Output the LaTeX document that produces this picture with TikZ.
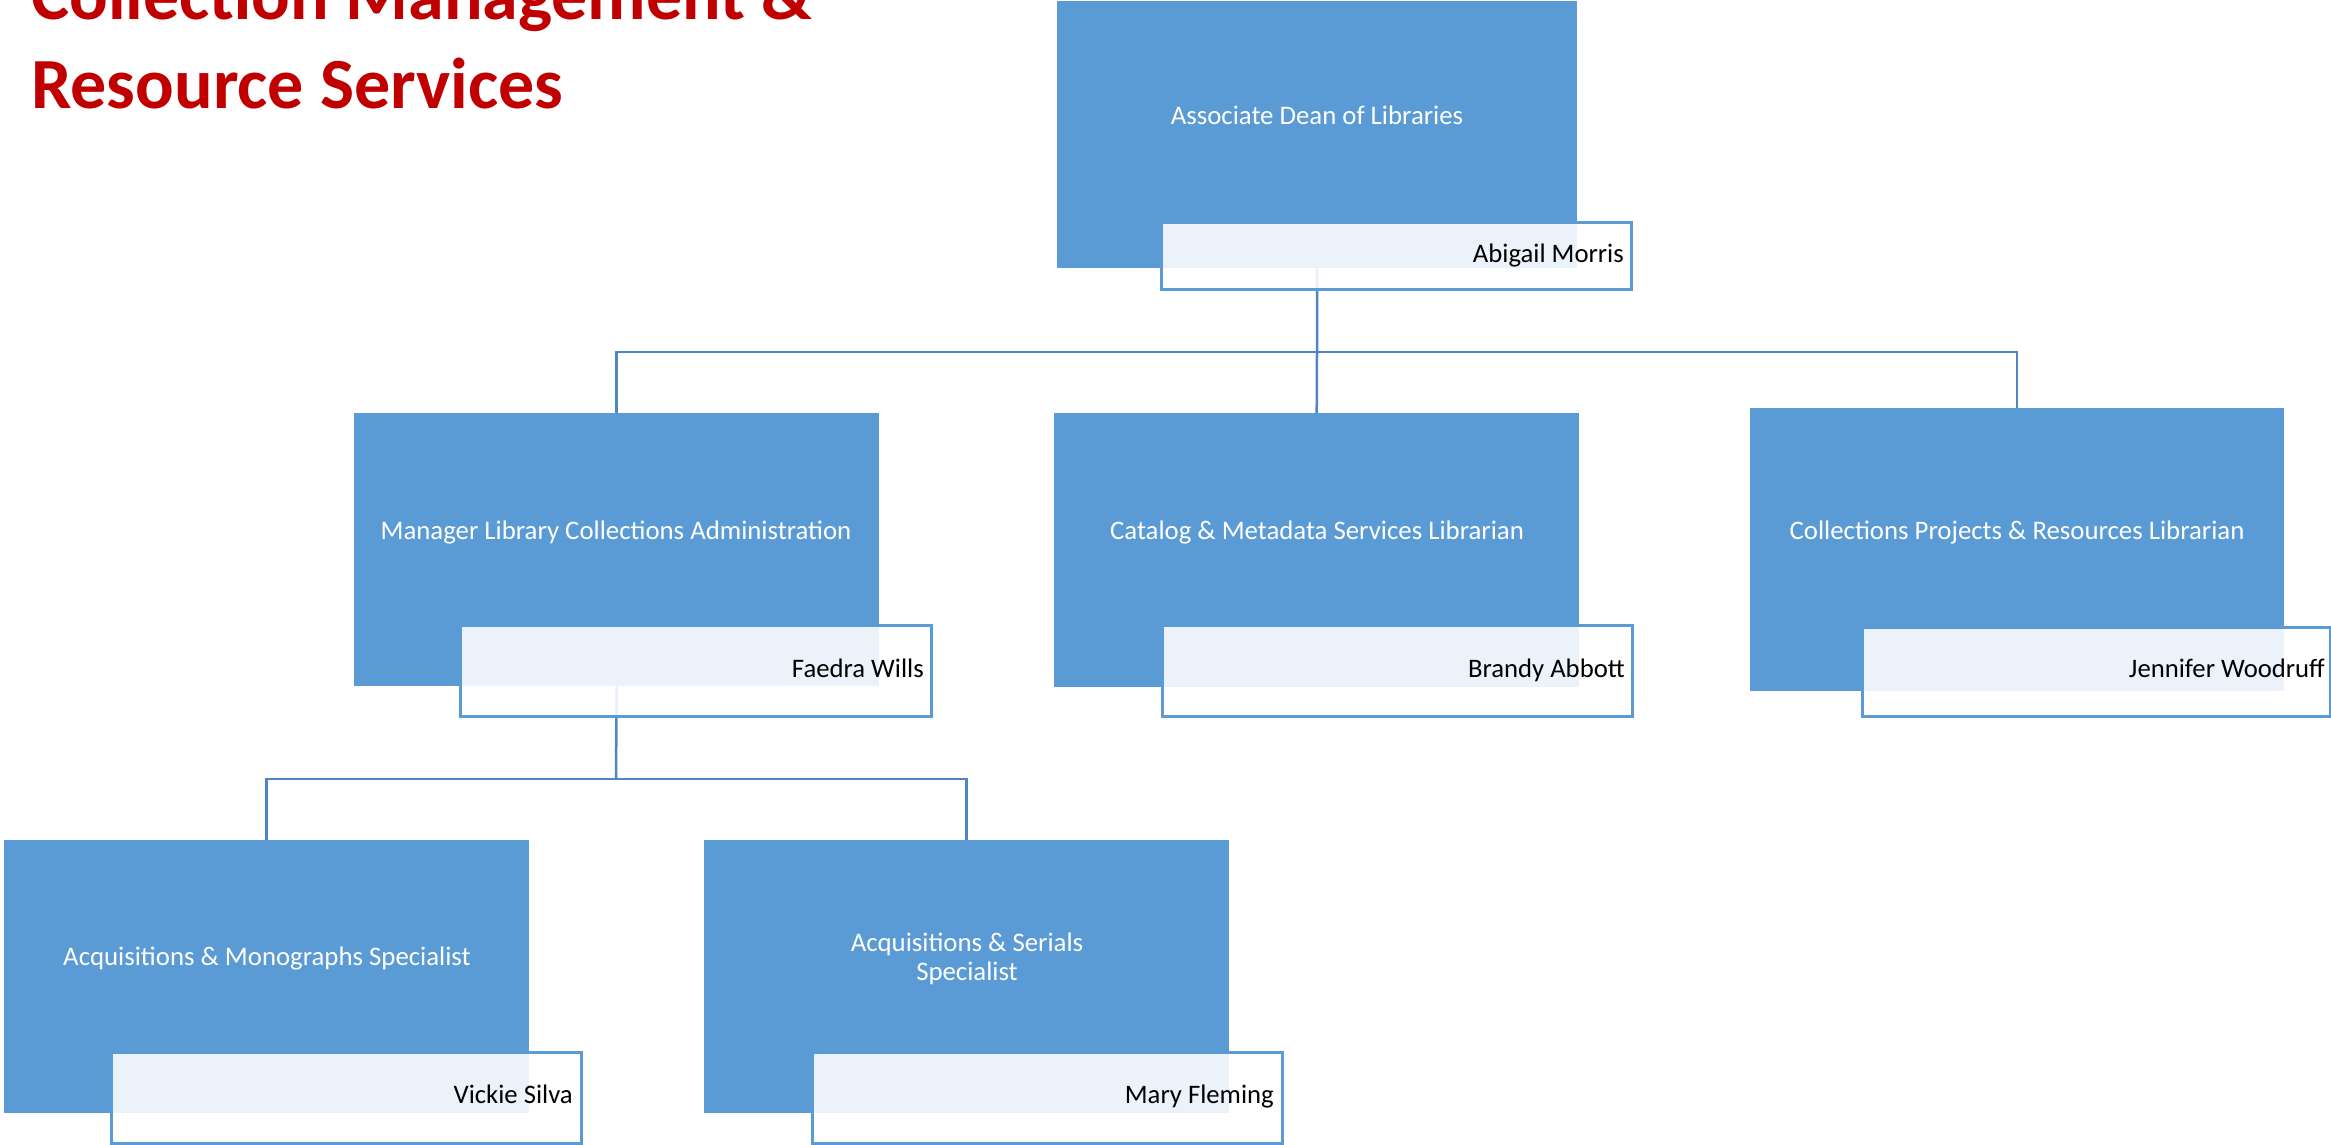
\documentclass[tikz,border=0pt]{standalone}
\usepackage{fontspec}
\setmainfont{Carlito}
\definecolor{boxblue}{RGB}{91,155,213}
\definecolor{linkblue}{RGB}{78,134,196}
\definecolor{titlered}{RGB}{192,0,0}
\tikzset{
  posbox/.style={draw=none, fill=boxblue, anchor=north west, inner sep=0pt},
  namebox/.style={draw=boxblue, line width=2.5pt, fill=white, fill opacity=0.88, anchor=north west, inner sep=0pt},
  postext/.style={text=white, font=\fontsize{26.8pt}{29pt}\selectfont, anchor=base, align=center, inner sep=0pt},
  nametext/.style={text=black, font=\fontsize{26.7pt}{29pt}\selectfont, anchor=base east, inner sep=0pt},
  link/.style={draw=linkblue, line width=2.5pt}
}
\begin{document}
\begin{tikzpicture}[x=1pt,y=-1pt]
\useasboundingbox (0,0) rectangle (2331,1144);
% title
\node[anchor=base west, align=left, inner sep=0pt, text=titlered, font=\fontsize{72pt}{89pt}\selectfont\bfseries] (title) at (31,108) {Collection Management \&\\Resource Services};
% position boxes
\node[posbox, minimum width=520pt, minimum height=267pt] (b0) at (1057,1) {};
\node[posbox, minimum width=525pt, minimum height=273pt] (b1) at (354,413) {};
\node[posbox, minimum width=525pt, minimum height=274pt] (b2) at (1054,413) {};
\node[posbox, minimum width=534pt, minimum height=283pt] (b3) at (1750,408) {};
\node[posbox, minimum width=525pt, minimum height=273pt] (b4) at (4,840) {};
\node[posbox, minimum width=525pt, minimum height=273pt] (b5) at (704,840) {};
% connectors
\coordinate (bar1) at (1317,352);
\coordinate (bar2) at (616,779);
\draw[link] (b0.south) -- (bar1) -- (b2.north);
\draw[link] (b1.north) -- (b1.north |- bar1) -- (b3.north |- bar1) -- (b3.north);
\draw[link] (b1.south) -- (bar2);
\draw[link] (b4.north) -- (b4.north |- bar2) -- (b5.north |- bar2) -- (b5.north);
% position titles
\node[postext] (t0) at (1317,124) {Associate Dean of Libraries};
\node[postext] (t1) at (616,539) {Manager Library Collections Administration};
\node[postext] (t2) at (1317,539) {Catalog \& Metadata Services Librarian};
\node[postext] (t3) at (2017,539) {Collections Projects \& Resources Librarian};
\node[postext] (t4) at (267,965) {Acquisitions \& Monographs Specialist};
\node[postext] (t5) at (967,980) {Acquisitions \& Serials\\Specialist};
% name boxes
\node[namebox, minimum width=470pt, minimum height=67pt] (n0) at (1160,221) {};
\node[namebox, minimum width=471pt, minimum height=91pt] (n1) at (459,624) {};
\node[namebox, minimum width=470pt, minimum height=91pt] (n2) at (1161,624) {};
\node[namebox, minimum width=468pt, minimum height=89pt] (n3) at (1861,626) {};
\node[namebox, minimum width=470pt, minimum height=91pt] (n4) at (110,1051) {};
\node[namebox, minimum width=470pt, minimum height=91pt] (n5) at (811,1051) {};
% names
\node[nametext] (m0) at (1624,262) {Abigail Morris};
\node[nametext] (m1) at (924,677) {Faedra Wills};
\node[nametext] (m2) at (1625,677) {Brandy Abbott};
\node[nametext] (m3) at (2325,677) {Jennifer Woodruff};
\node[nametext] (m4) at (573,1103) {Vickie Silva};
\node[nametext] (m5) at (1274,1103) {Mary Fleming};
\end{tikzpicture}
\end{document}
